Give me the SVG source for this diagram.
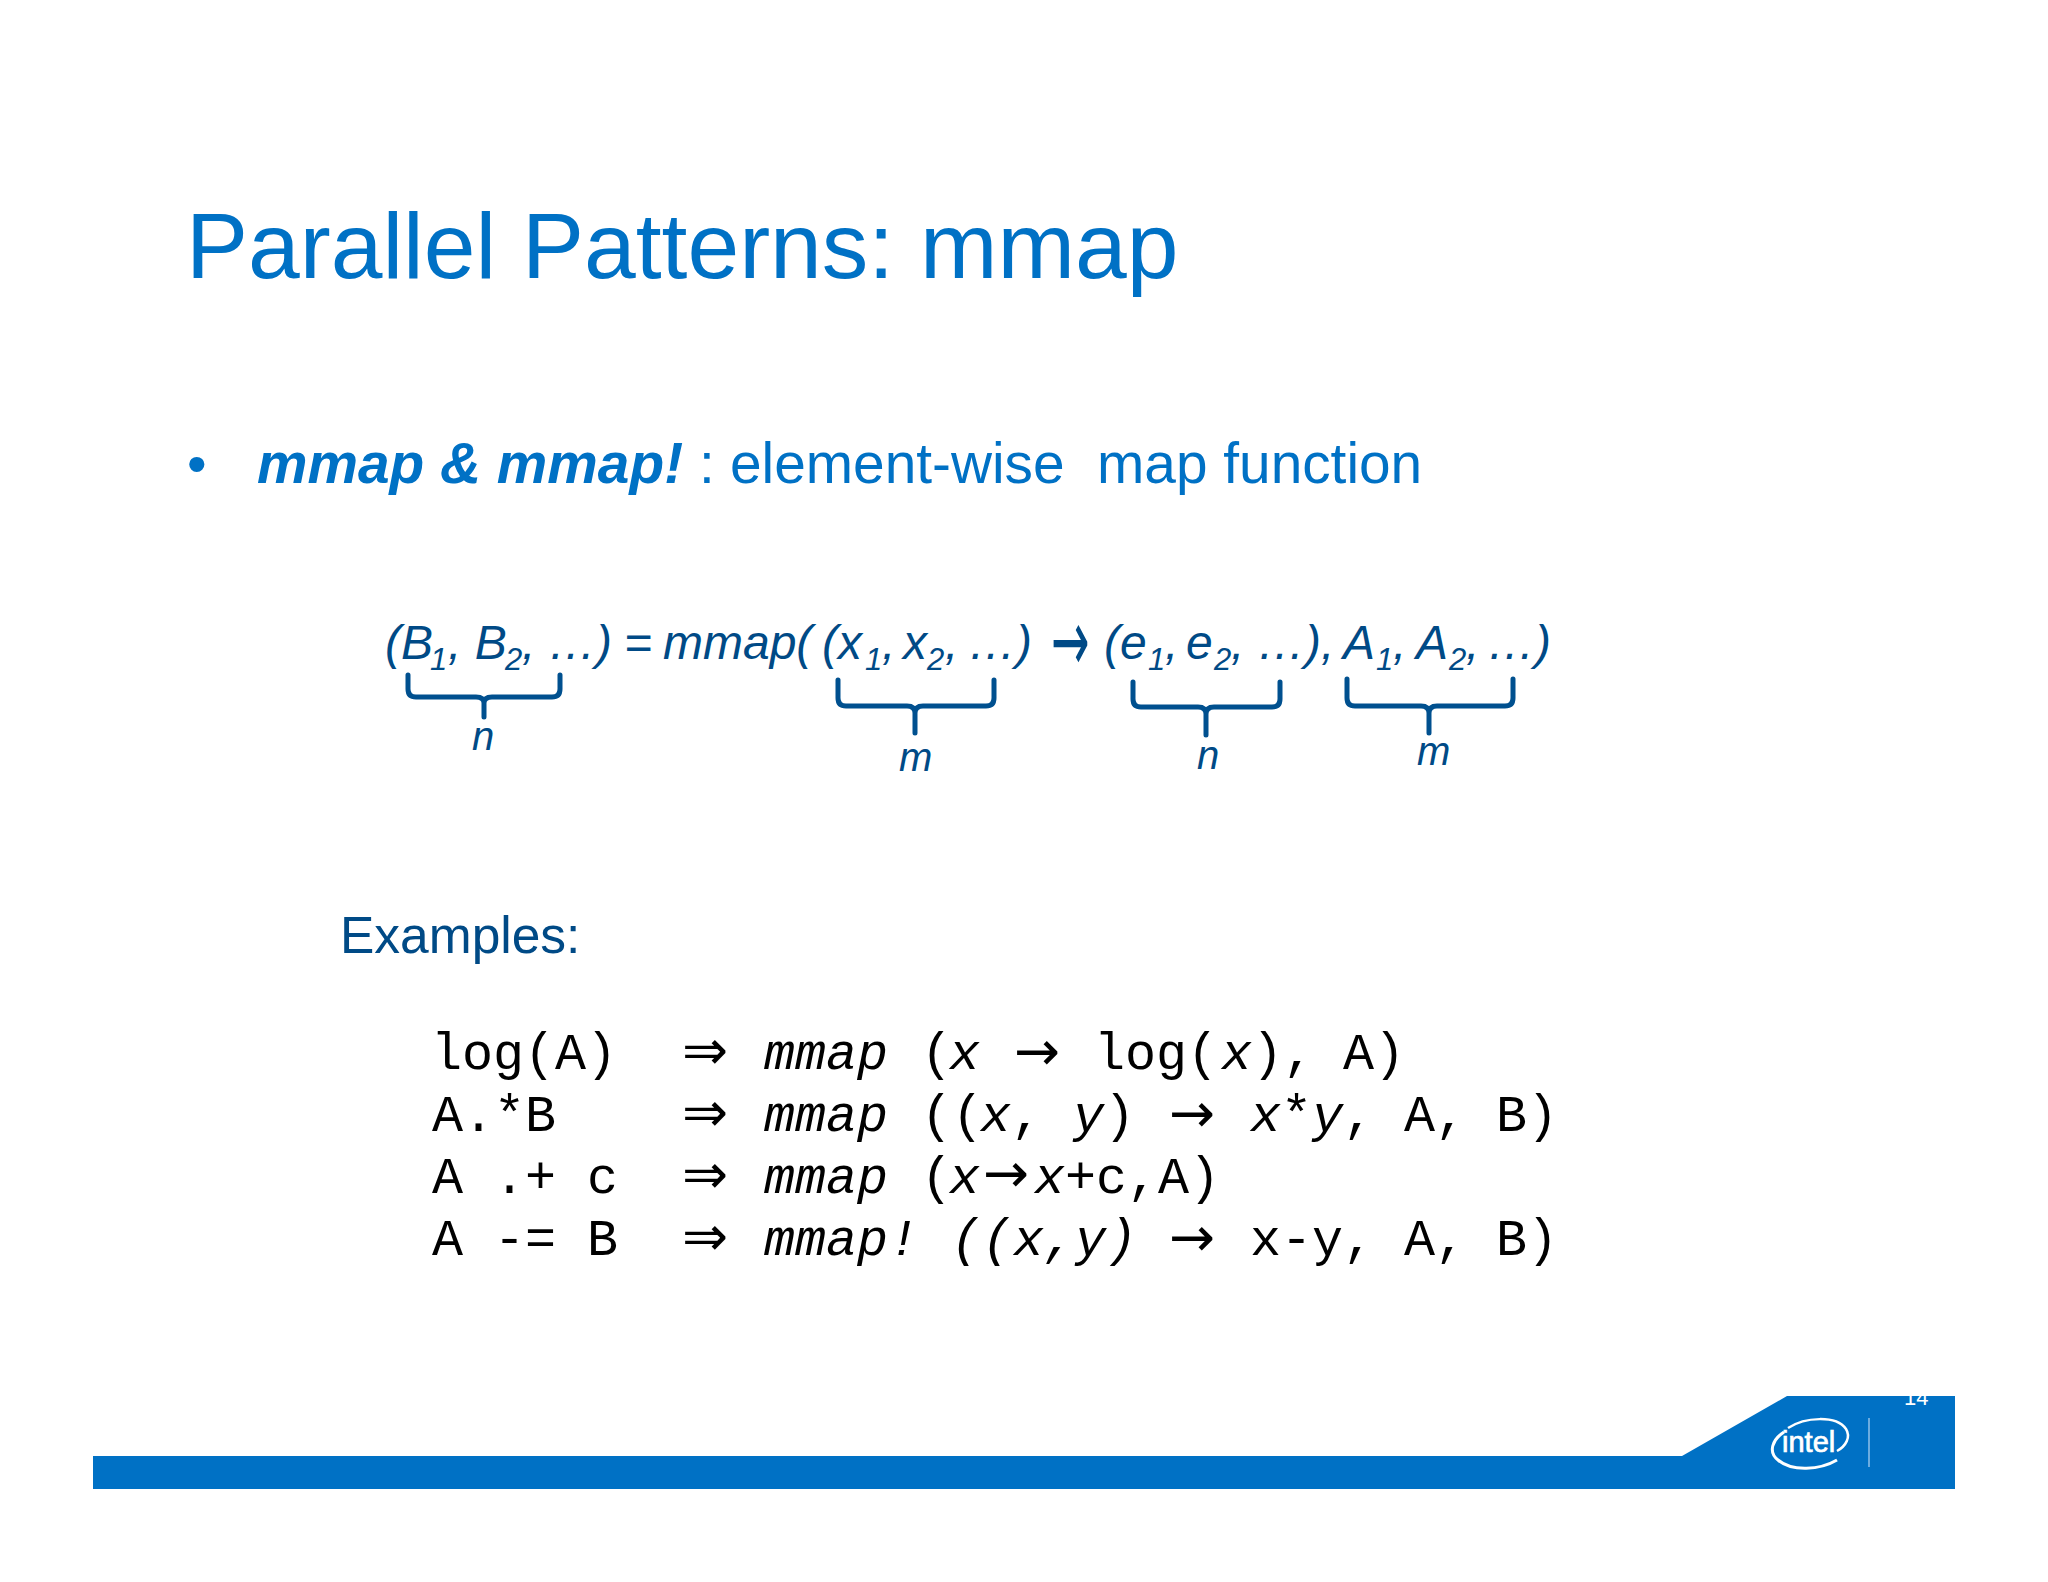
<svg xmlns="http://www.w3.org/2000/svg" width="2048" height="1582" viewBox="0 0 2048 1582">
<style>
text{white-space:pre}
.s{font-family:"Liberation Sans",Arial,sans-serif}
.t{fill:#0071c5}
.f{fill:#004a86;font-style:italic;font-size:48px}
.sub{font-size:31px}
.lab{fill:#004a86;font-style:italic;font-size:40px}
.brace{fill:none;stroke:#00508f;stroke-width:5;stroke-linecap:round;stroke-linejoin:round}
.m{font-family:"Liberation Mono","Courier New",monospace;font-size:51.7px;fill:#000}
.i{font-style:italic}
.a{font-family:"DejaVu Sans",sans-serif;font-size:55px;fill:#000}
</style>
<defs><clipPath id="c14"><rect x="1890" y="1396" width="60" height="30"/></clipPath></defs>
<rect width="2048" height="1582" fill="#fff"/>
<g id="title"><text class="s t" x="186" y="278" font-size="93">Parallel Patterns: mmap</text></g>
<g id="bullet">
<text class="s t" x="187" y="483" font-size="56">•</text>
<text class="s t" x="257" y="483" font-size="56.8" font-weight="bold" font-style="italic">mmap &amp; mmap!</text>
<text class="s t" x="699" y="483" font-size="56.8">:</text>
<text class="s t" x="730" y="483" font-size="56.8">element-wise</text>
<text class="s t" x="1097" y="483" font-size="56.8">map function</text>
</g>
<g id="formula">
<text class="s f" y="659"><tspan x="385">(B</tspan><tspan class="sub" x="430" y="670">1</tspan><tspan x="448" y="659">, B</tspan><tspan class="sub" x="505" y="670">2</tspan><tspan x="522" y="659">,</tspan><tspan x="548">…)</tspan><tspan x="624">=</tspan><tspan x="663">mmap(</tspan><tspan x="822">(x</tspan><tspan class="sub" x="865" y="670">1</tspan><tspan x="882" y="659">,</tspan><tspan x="903">x</tspan><tspan class="sub" x="927" y="670">2</tspan><tspan x="945" y="659">,</tspan><tspan x="968">…)</tspan></text>
<text class="a" transform="translate(1051,642) scale(1,1.9)" y="15" style="font-size:46px;fill:#004a86">→</text>
<text class="s f" y="659"><tspan x="1104">(e</tspan><tspan class="sub" x="1148" y="670">1</tspan><tspan x="1165" y="659">,</tspan><tspan x="1186">e</tspan><tspan class="sub" x="1214" y="670">2</tspan><tspan x="1231" y="659">,</tspan><tspan x="1257">…),</tspan><tspan x="1343">A</tspan><tspan class="sub" x="1376" y="670">1</tspan><tspan x="1393" y="659">,</tspan><tspan x="1416">A</tspan><tspan class="sub" x="1449" y="670">2</tspan><tspan x="1466" y="659">,</tspan><tspan x="1487">…)</tspan></text>
</g>
<g id="braces">
<path class="brace" d="M408 675V689Q408 697 416 697H476Q484 697 484 703V717M484 703Q484 697 492 697H552Q560 697 560 689V675"/>
<path class="brace" d="M838 680V698Q838 706 846 706H907Q915 706 915 713V733M915 713Q915 706 923 706H986Q994 706 994 698V680"/>
<path class="brace" d="M1133 682V699Q1133 707 1141 707H1198Q1206 707 1206 714V735M1206 714Q1206 707 1214 707H1272Q1280 707 1280 699V682"/>
<path class="brace" d="M1347 679V698Q1347 706 1355 706H1421Q1429 706 1429 713V733M1429 713Q1429 706 1437 706H1505Q1513 706 1513 698V679"/>
</g>
<g id="labels">
<text class="s lab" x="472" y="750">n</text>
<text class="s lab" x="899" y="771">m</text>
<text class="s lab" x="1197" y="769">n</text>
<text class="s lab" x="1417" y="765">m</text>
</g>
<g id="examples">
<text class="s" x="340" y="953" font-size="51.5" fill="#004a86">Examples:</text>
</g>
<g id="code">
<text class="m" y="1069"><tspan x="431">log(A)</tspan><tspan x="764" class="i">mmap</tspan><tspan x="921">(</tspan><tspan x="949" class="i">x</tspan><tspan x="1094">log(</tspan><tspan x="1221" class="i">x</tspan><tspan x="1252">),</tspan><tspan x="1343">A)</tspan></text>
<text class="m" y="1131"><tspan x="432">A.*B</tspan><tspan x="764" class="i">mmap</tspan><tspan x="921">((</tspan><tspan x="980" class="i">x</tspan><tspan x="1011">,</tspan><tspan x="1073" class="i">y</tspan><tspan x="1104">)</tspan><tspan x="1250" class="i">x</tspan><tspan x="1281">*</tspan><tspan x="1312" class="i">y</tspan><tspan x="1343">,</tspan><tspan x="1404">A,</tspan><tspan x="1496">B)</tspan></text>
<text class="m" y="1193"><tspan x="432">A .+ c</tspan><tspan x="764" class="i">mmap</tspan><tspan x="921">(</tspan><tspan x="949" class="i">x</tspan><tspan x="1034" class="i">x</tspan><tspan x="1065">+c,A)</tspan></text>
<text class="m" y="1255"><tspan x="432">A -= B</tspan><tspan x="764" class="i">mmap!</tspan><tspan x="951" class="i">((x,y)</tspan><tspan x="1250">x-y,</tspan><tspan x="1404">A,</tspan><tspan x="1496">B)</tspan></text>
<text class="a" x="682" y="1069">⇒</text>
<text class="a" x="682" y="1131">⇒</text>
<text class="a" x="682" y="1193">⇒</text>
<text class="a" x="682" y="1255">⇒</text>
<text class="a" x="1014" y="1070">→</text>
<text class="a" x="1169" y="1132">→</text>
<text class="a" x="983" y="1192">→</text>
<text class="a" x="1169" y="1256">→</text>
</g>
<g id="footer">
<polygon points="93,1489 1955,1489 1955,1396 1787,1396 1682,1456 93,1456" fill="#0071c5"/>
<text class="s" x="1904" y="1405" font-size="22" fill="#fff" clip-path="url(#c14)">14</text>
<line x1="1869" y1="1418" x2="1869" y2="1467" stroke="#8fc0e8" stroke-width="1.5"/>
</g>
<g id="intel-logo">
<text class="s" x="1782" y="1452" font-size="29" fill="#fff" stroke="#fff" stroke-width=".7">intel</text>
<path d="M1788 1428C1805 1417 1836 1415 1846 1429C1851 1437 1846 1446 1837 1451" fill="none" stroke="#fff" stroke-width="2.5"/>
<path d="M1784 1432C1772 1440 1768 1452 1778 1460C1792 1472 1820 1470 1837 1460" fill="none" stroke="#fff" stroke-width="3"/>
</g>
</svg>
